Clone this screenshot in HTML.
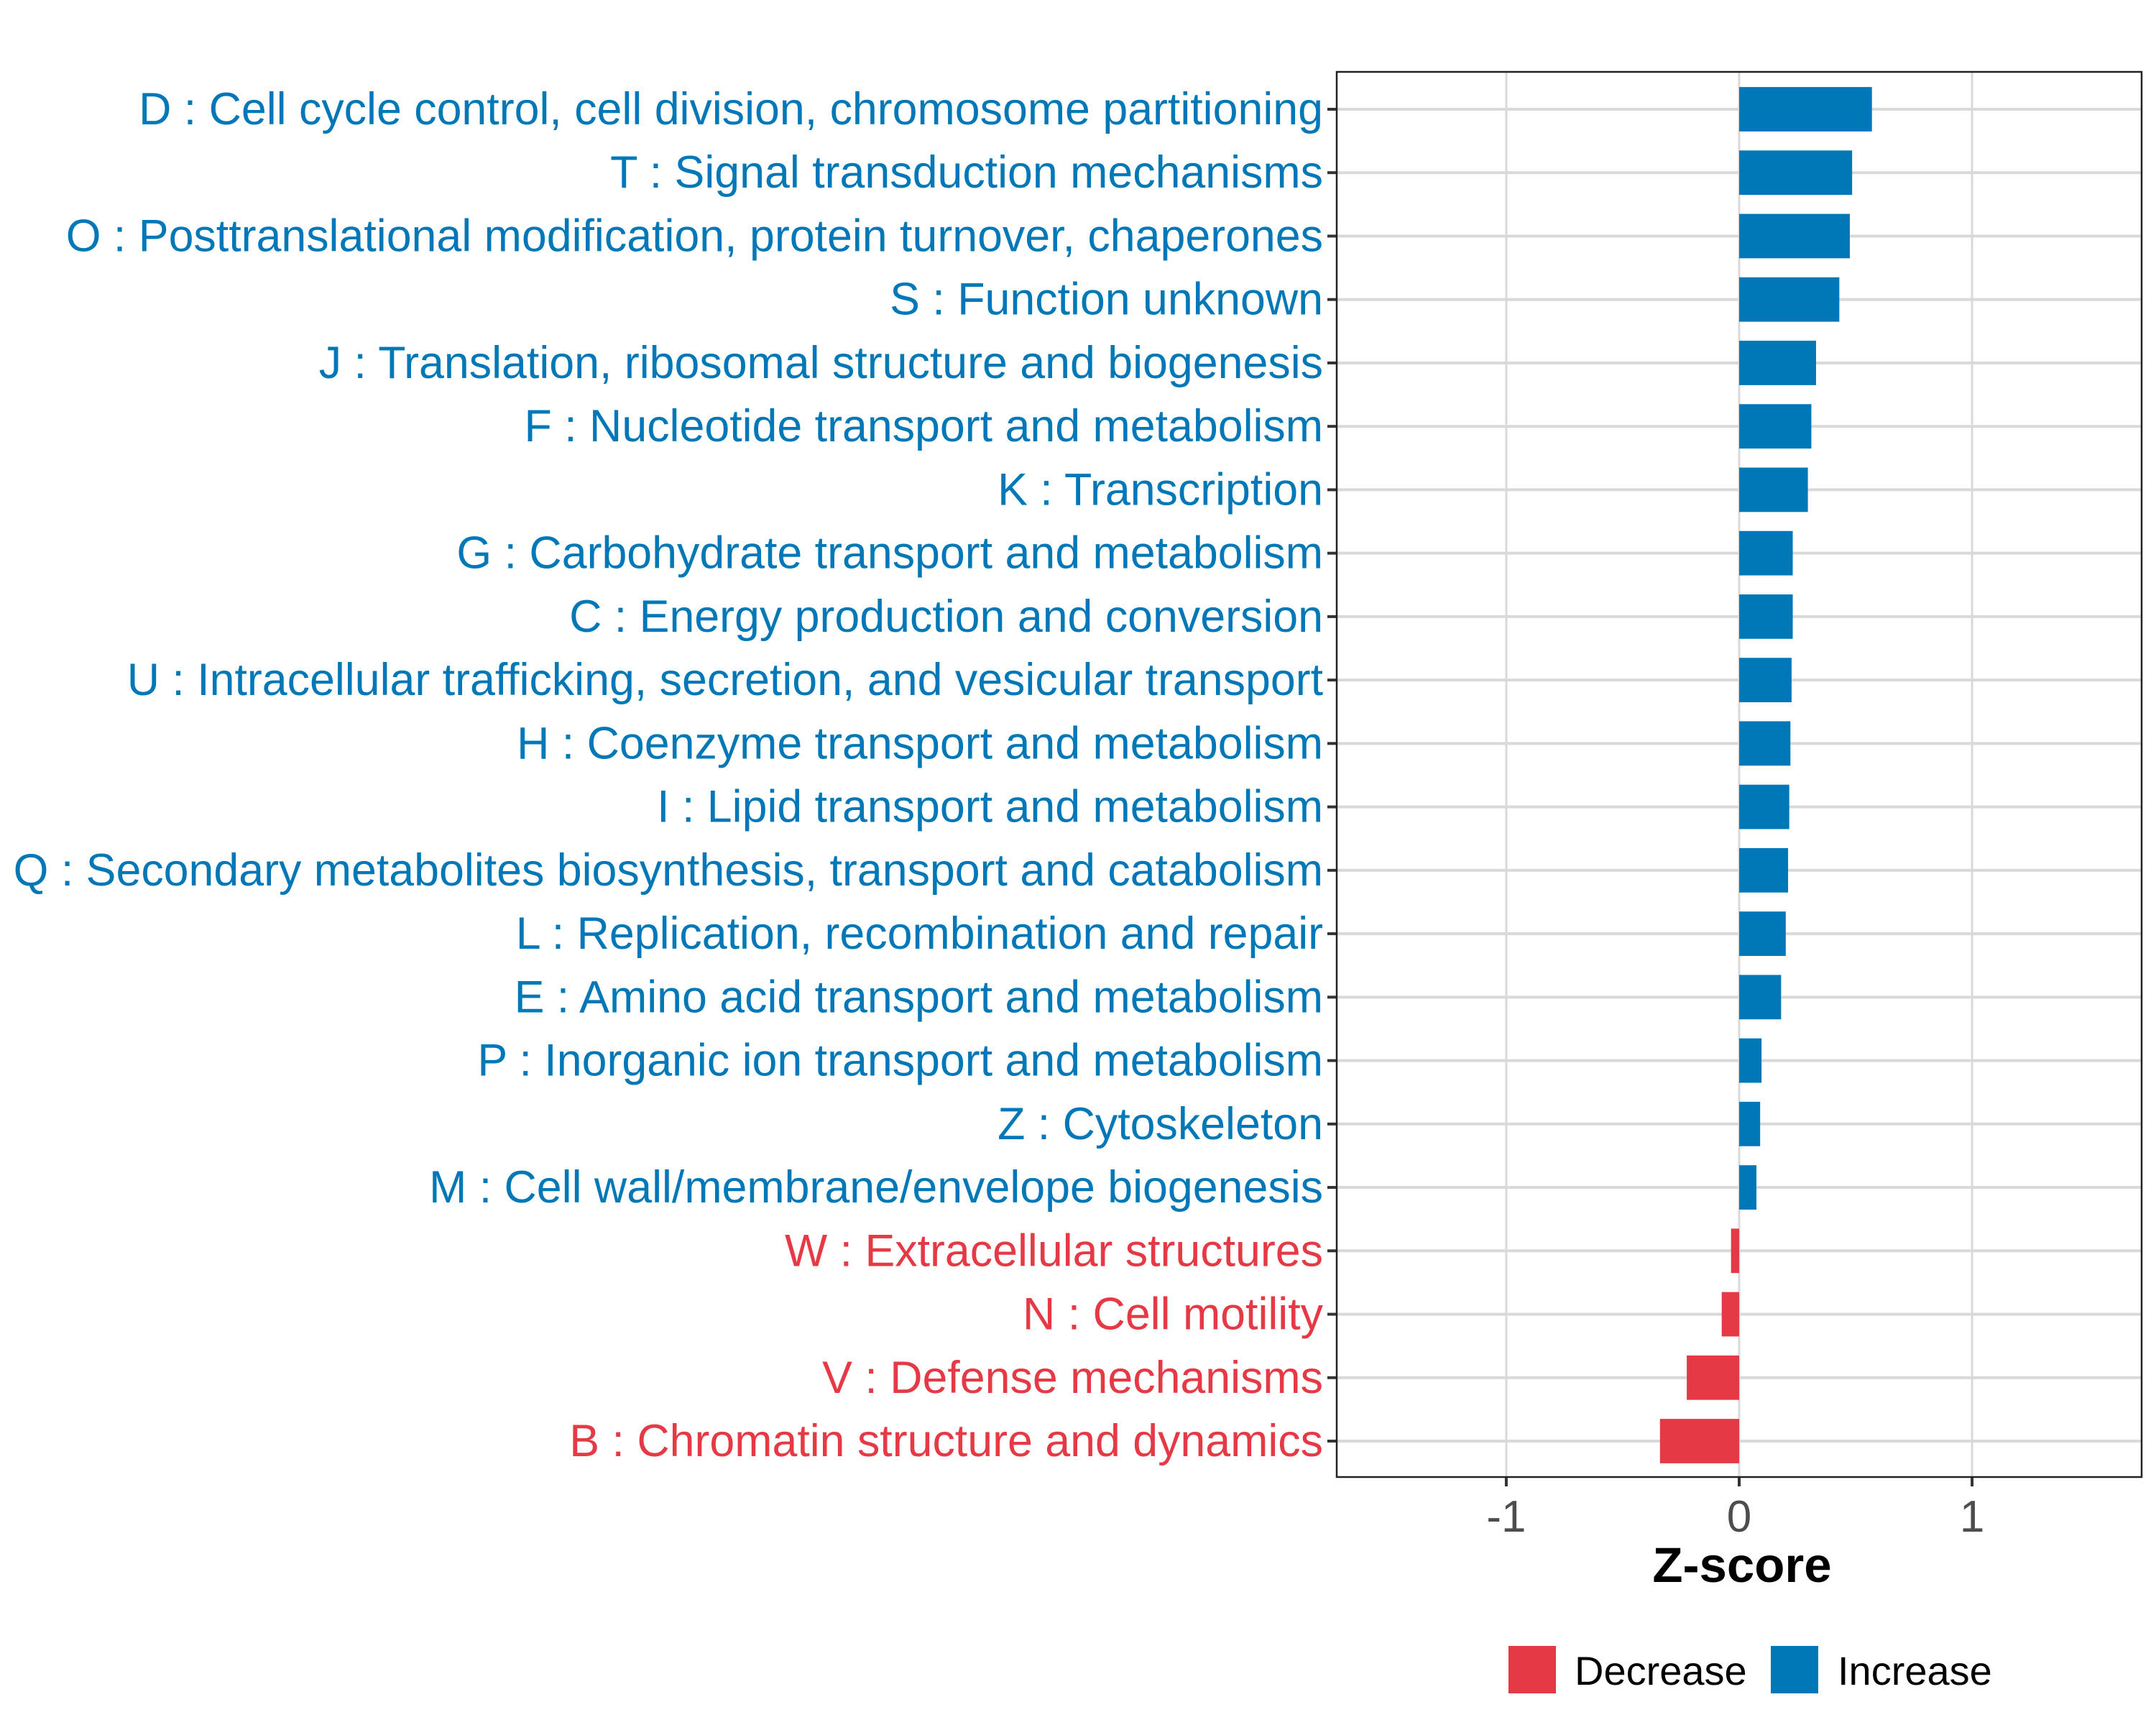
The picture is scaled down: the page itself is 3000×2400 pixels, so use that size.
<!DOCTYPE html>
<html><head><meta charset="utf-8"><style>
html,body{margin:0;padding:0;background:#fff;}
svg{display:block;font-family:"Liberation Sans",Arial,sans-serif;}
</style></head><body>
<svg id="chart" width="3000" height="2400" viewBox="0 0 3000 2400" xmlns="http://www.w3.org/2000/svg">
<rect x="0" y="0" width="3000" height="2400" fill="#fff"/>
<g id="grid"></g><g id="bars"></g><g id="ylabels"></g><g id="xaxis"></g>
<rect x="1860" y="100" width="1120" height="1955" fill="none" stroke="#222" stroke-width="2.5"/>
<text x="2424" y="2201" text-anchor="middle" font-size="69" font-weight="bold" fill="#000">Z-score</text>
<g>
<rect x="2099" y="2290" width="66" height="66" fill="#E63946"/>
<text x="2191" y="2344" font-size="56" fill="#000">Decrease</text>
<rect x="2464" y="2290" width="66" height="66" fill="#0077B6"/>
<text x="2557" y="2344" font-size="56" fill="#000">Increase</text>
</g>
</svg>
<script>
const categories = ["D : Cell cycle control, cell division, chromosome partitioning","T : Signal transduction mechanisms","O : Posttranslational modification, protein turnover, chaperones","S : Function unknown","J : Translation, ribosomal structure and biogenesis","F : Nucleotide transport and metabolism","K : Transcription","G : Carbohydrate transport and metabolism","C : Energy production and conversion","U : Intracellular trafficking, secretion, and vesicular transport","H : Coenzyme transport and metabolism","I : Lipid transport and metabolism","Q : Secondary metabolites biosynthesis, transport and catabolism","L : Replication, recombination and repair","E : Amino acid transport and metabolism","P : Inorganic ion transport and metabolism","Z : Cytoskeleton","M : Cell wall/membrane/envelope biogenesis","W : Extracellular structures","N : Cell motility","V : Defense mechanisms","B : Chromatin structure and dynamics"];
const zscores = [0.57,0.485,0.475,0.43,0.33,0.31,0.295,0.23,0.23,0.225,0.22,0.215,0.21,0.2,0.18,0.096,0.09,0.074,-0.035,-0.075,-0.225,-0.34];
const xTicks = [-1,0,1];
const xTickLabels = ["-1","0","1"];

const NS="http://www.w3.org/2000/svg";
const PL=1860, PR=2980, PT=100, PB=2055;
const XMIN=-1.728, XMAX=1.728;
const x = v => PL + (v-XMIN)/(XMAX-XMIN)*(PR-PL);
const n = categories.length;
const Y0=152, Y1=2005;
const step = (Y1-Y0)/(n-1);
const y = i => Y0 + i*step;
function mk(tag, parent){const e=document.createElementNS(NS,tag);parent.appendChild(e);return e;}

const grid=document.getElementById('grid');
xTicks.forEach((t,k)=>{
  const l=mk('line',grid);
  
  
  l.setAttribute('x1',x(t));l.setAttribute('x2',x(t));l.setAttribute('y1',PT);l.setAttribute('y2',PB);
  l.setAttribute('stroke','#d9d9d9');l.setAttribute('stroke-width','3');
});
categories.forEach((c,i)=>{
  const l=mk('line',grid);
  
  
  l.setAttribute('x1',PL);l.setAttribute('x2',PR);l.setAttribute('y1',y(i));l.setAttribute('y2',y(i));
  l.setAttribute('stroke','#d9d9d9');l.setAttribute('stroke-width','4');
});
const bars=document.getElementById('bars');
const bh=step*0.7;
zscores.forEach((v,i)=>{
  const r=mk('rect',bars);
  
  
  r.setAttribute('x',Math.min(x(0),x(v)));r.setAttribute('width',Math.abs(x(v)-x(0)));
  r.setAttribute('y',y(i)-bh/2);r.setAttribute('height',bh);
  r.setAttribute('fill',v>=0?'#0077B6':'#E63946');
});
const yl=document.getElementById('ylabels');
const texts=[];
categories.forEach((c,i)=>{
  const tk=mk('line',yl);
  
  
  tk.setAttribute('x1',PL-13);tk.setAttribute('x2',PL);tk.setAttribute('y1',y(i));tk.setAttribute('y2',y(i));
  tk.setAttribute('stroke','#333');tk.setAttribute('stroke-width','4');
  const t=mk('text',yl);
  
  
  t.setAttribute('x',PL-19);t.setAttribute('y',y(i)+21);
  t.setAttribute('text-anchor','end');t.setAttribute('font-size','100');
  t.setAttribute('fill',zscores[i]>=0?'#0077B6':'#E63946');
  t.textContent=c;texts.push(t);
});
const w=texts[2].getComputedTextLength();
const fs=w>0?Math.min(64,100*1750/w):57;
texts.forEach(t=>t.setAttribute('font-size',fs.toFixed(1)));
const xa=document.getElementById('xaxis');
xTicks.forEach((t,k)=>{
  const l=mk('line',xa);
  
  
  l.setAttribute('x1',x(t));l.setAttribute('x2',x(t));l.setAttribute('y1',PB);l.setAttribute('y2',PB+13);
  l.setAttribute('stroke','#333');l.setAttribute('stroke-width','4');
  const tx=mk('text',xa);
  
  
  tx.setAttribute('x',x(t));tx.setAttribute('y',PB+76);tx.setAttribute('text-anchor','middle');
  tx.setAttribute('font-size','62');tx.setAttribute('fill','#4d4d4d');
  tx.textContent=xTickLabels[k];
});
</script>
</body></html>
